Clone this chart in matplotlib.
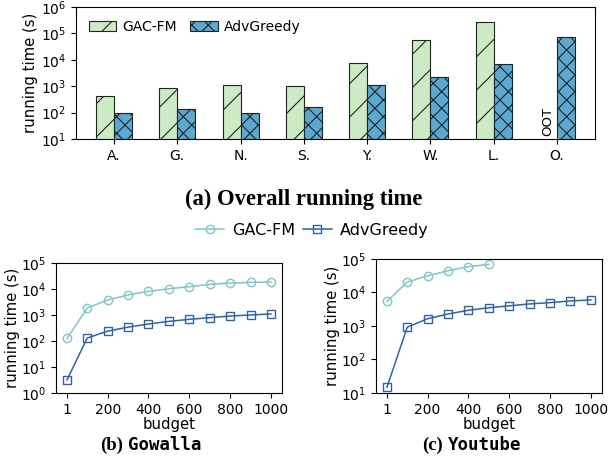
import numpy as np
import matplotlib
matplotlib.use("Agg")
import matplotlib.pyplot as plt

# overall running time per dataset
datasets = ["A.", "G.", "N.", "S.", "Y.", "W.", "L.", "O."]
gac_time = [420, 850, 1080, 1000, 7400, 55000, 265000, np.nan]   # O. = OOT
adv_time = [97, 137, 100, 160, 1080, 2200, 6700, 71000]

# budget sweeps
budget = [1, 100, 200, 300, 400, 500, 600, 700, 800, 900, 1000]
gowalla_gac = [126, 1860, 3800, 5900, 8100, 10200, 12300, 15000, 17000, 18000, 18600]
gowalla_adv = [3.2, 130, 240, 340, 450, 570, 680, 790, 910, 1000, 1100]
youtube_budget = [1, 100, 200, 300, 400, 500]
youtube_gac = [5400, 20500, 31600, 44600, 59000, 69000]
youtube_adv = [15, 920, 1650, 2280, 2950, 3500, 4000, 4560, 4980, 5600, 6000]

c_gac_bar = "#ccebc5"
c_adv_bar = "#5ba9d0"
c_gac_line = "#80c4cc"
c_adv_line = "#2f62aa"

plt.rcParams["font.family"] = "DejaVu Sans"
plt.rcParams["hatch.linewidth"] = 0.8

fig = plt.figure(figsize=(6.08, 4.61), dpi=100)

# (a) bars
ax = fig.add_axes([0.125, 0.6985, 0.8536, 0.2863])
x = np.arange(len(datasets))
w = 0.285
ax.bar(x - w / 2, gac_time, w, color=c_gac_bar, edgecolor="#222222", hatch="/", linewidth=0.8, label="GAC-FM")
ax.bar(x + w / 2, adv_time, w, color=c_adv_bar, edgecolor="#222222", hatch="xx", linewidth=0.8, label="AdvGreedy")
ax.set_yscale("log")
ax.set_ylim(10, 1e6)
ax.set_yticks([10, 100, 1e3, 1e4, 1e5, 1e6])
ax.set_xlim(-0.6, len(datasets) - 0.4)
ax.set_xticks(x)
ax.set_xticklabels(datasets)
ax.set_ylabel("running time (s)", fontsize=10.7, labelpad=2)
ax.tick_params(labelsize=10)
ax.minorticks_off()
ax.text(x[-1] - w / 2, 13.3, "OOT", rotation=90, ha="center", va="bottom", fontsize=9.5)
ax.legend(loc="upper left", ncol=2, frameon=False, fontsize=10, handlelength=2.0,
          handleheight=0.7, handletextpad=0.4, columnspacing=1.0)
fig.text(0.5, 0.568, "(a) Overall running time", ha="center", va="center",
         family="Liberation Serif", weight="bold", fontsize=16.3)

# (b) Gowalla
ax1 = fig.add_axes([0.0921, 0.1475, 0.3717, 0.282])
l1, = ax1.plot(budget, gowalla_gac, color=c_gac_line, marker="o", mfc="none", ms=6, mew=1, lw=1.1, label="GAC-FM")
l2, = ax1.plot(budget, gowalla_adv, color=c_adv_line, marker="s", mfc="none", ms=6, mew=1, lw=1.1, label="AdvGreedy")
ax1.set_yscale("log")
ax1.set_ylim(1, 1e5)
ax1.set_yticks([1, 10, 100, 1e3, 1e4, 1e5])

# (c) Youtube
ax2 = fig.add_axes([0.6184, 0.1475, 0.3716, 0.2907])
ax2.plot(youtube_budget, youtube_gac, color=c_gac_line, marker="o", mfc="none", ms=6, mew=1, lw=1.1)
ax2.plot(budget, youtube_adv, color=c_adv_line, marker="s", mfc="none", ms=6, mew=1, lw=1.1)
ax2.set_yscale("log")
ax2.set_ylim(10, 1e5)
ax2.set_yticks([10, 100, 1e3, 1e4, 1e5])

for a in (ax1, ax2):
    a.set_xlim(-53, 1054)
    a.set_xticks([1, 200, 400, 600, 800, 1000])
    a.set_xlabel("budget", fontsize=10.7, labelpad=0)
    a.set_ylabel("running time (s)", fontsize=10.7, labelpad=1)
    a.tick_params(labelsize=10)
    a.minorticks_off()

fig.text(0.2023, 0.035, "(b)", ha="right", va="center", family="Liberation Serif", weight="bold", fontsize=13.5)
fig.text(0.2105, 0.035, "Gowalla", ha="left", va="center", family="DejaVu Sans Mono", weight="bold", fontsize=12.5)
fig.text(0.7286, 0.035, "(c)", ha="right", va="center", family="Liberation Serif", weight="bold", fontsize=13.5)
fig.text(0.7368, 0.035, "Youtube", ha="left", va="center", family="DejaVu Sans Mono", weight="bold", fontsize=12.5)

fig.legend(handles=[l1, l2], loc="center", bbox_to_anchor=(0.513, 0.501), ncol=2, frameon=False,
           fontsize=11.5, handlelength=1.8, columnspacing=0.5, handletextpad=0.5)

fig.savefig("out.png", dpi=100)
